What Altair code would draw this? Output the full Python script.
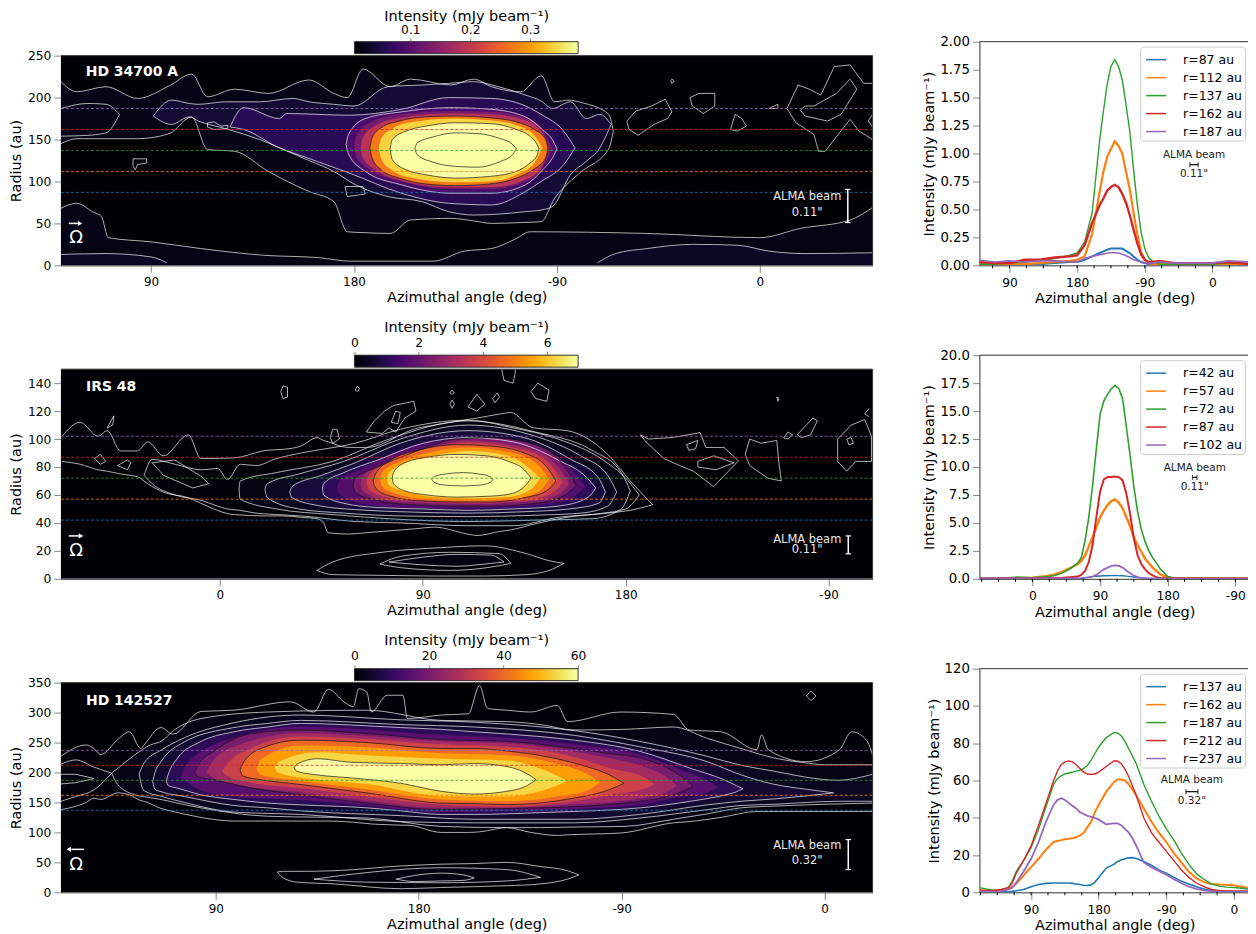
import altair as alt
import pandas as pd

# ---------- panel 1 : HD 34700 A (x, hi, lo) ----------
P1_LOW = ([50,57,64,68,71,90,112,140,165,178,215,229,241,252,258,310,360,378,400,410],
          [68,74,64,58,33,28,20,12,9,5,5,17,20,32,40,38,33,44,54,69], None)
P1_LOW2 = ([50,70,90,97], [13,14,10,3], None)
P1_LOW3 = ([288,296,310,330,350,364,380,410], [3,14,20,25,24,17,14,15], None)
P1_LB = ([50,62,70,76], [187,193,192,180], [154,155,158,180])
P1_A = ([50,57,70,84,98,108,115,127,142,160,171,177,184,196,205,223,233,241,254,263,269,275,281,293,295],
        [219,207,213,199,214,228,201,210,205,221,205,200,234,213,222,215,222,213,207,226,195,197,194,180,160],
        [145,151,151,151,157,177,138,136,112,88,76,40,39,38,54,56,53,50,51,52,80,98,112,139,160])
P1_B = ([91,99,107,111,123,138,153,160,171,180,195,210,222,233,244,256,263,268,276,283,289,294],
        [178,197,193,192,195,195,199,195,192,190,213,215,217,219,213,203,196,187,195,175,180,168],
        [178,168,177,172,163,150,133,125,112,97,82,76,64,60,61,64,66,70,108,124,140,168])
P1_C = ([125,131,147,150,178,201,222,241,256,263,273,278],
        [165,188,175,181,179,186,200,199,190,180,160,140],
        [165,162,140,137,110,86,74,72,88,100,120,140])
P1_D = ([176.5,177.5,185,201,223,241,256,263,269,270],
        [144,156,175,183,188,186,177,163,145,139],
        [144,133,112,96,86,86,96,112,133,139])
P1_D1 = ([180,181,187,201,223,241,256,263,266,268],
         [141,154,170,180,184,183,176,165,150,140],
         [141,129,114,100,91,91,100,114,128,140])
P1_D2 = ([183,184,190,201,223,241,256,263,266.5],
         [140,153,167,176,181,180,173,160,140],
         [140,128,113,101,93,93,102,116,140])
P1_E = ([187,188,192,200,212,225,240,252,260,265,266],
        [140,152,164,172,177,178,176,171,162,150,140],
        [140,128,114,104,97,95,97,104,115,128,140])
P1_E1 = ([191,192,197,206,225,240,252,260,263.5],
         [140,151,163,171,175,173,167,155,140],
         [140,127,113,104,99,100,108,122,140])
P1_F = ([196,197,203,212,225,240,252,258,261,262],
        [139,150,160,166,170,169,162,154,145,139],
        [139,126,114,108,104,106,112,122,130,139])
P1_G = ([207,208,215,225,235,245,250,252],
        [139,146,153,158,157,151,145,139],
        [139,132,123,118,117,124,131,139])
P1_BANDS = [(P1_LOW,.02,"w"),(P1_LOW2,.03,"w"),(P1_LOW3,.03,"w"),(P1_LB,.035,"w"),(P1_A,.022,"w"),(P1_B,.04,"w"),
            (P1_C,.06,"w"),(P1_D,.09,"w"),(P1_D1,.13,None),(P1_D2,.19,None),(P1_E,.27,"k"),
            (P1_E1,.34,None),(P1_F,.38,"k"),(P1_G,.38,"k")]
P1_BLOBS = [
 [(82,127),(88,127),(88,122),(84,120),(83,114),(82,118),(82,127)],
 [(176,94),(184,94),(185,85),(177,82),(176,94)],
 [(115,170),(118,171),(121,166),(124,167),(124,163),(118,162),(115,165),(115,170)],
 [(321,222),(322,220),(321,217),(320.5,220),(321,222)],
 [(301,172),(305,184),(312,190),(318,198),(321,183),(319,175),(313,168),(306,155),(302,162),(301,172)],
 [(329,200),(333,205),(340,205),(340,190),(335,181),(330,190),(329,200)],
 [(364,187),(368,192),(368,187),(364,187)],
 [(347,162),(349,180),(352,175),(354,166),(350,160),(347,162)],
 [(410,217),(406,217),(400,239),(393,237),(387,203),(382,210),(377,215),(372,187),(376,170),(384,156),(386,136),(389,136),(393,150),(400,174),(404,160),(410,150)],
 [(380,190),(384,190),(394,205),(400,222),(403,210),(396,180),(390,172),(380,178),(378,185),(380,190)],
 [(410,180),(408,172),(410,165)],
]

# ---------- panel 2 : IRS 48 ----------
P2_A2 = ([-70,-62,-54,-50,-44,-36.5,-32,-25,-14,-8.4,6,21,28.5,36,43,46,48,57,65,88,95,110,114,124.5,129,139,154,172,182,192],
         [102,112,102,106,91.5,91.5,98,88,103,86,86.5,92,92.7,95,101,99,98,94,94,108,110,114,115,118,119,108,106,89,70,53],
         [84,82,78,77,75,73,68,62,58,54,46,45,45,44,43,40,33,32,33,36,37,32,31,34,35,39,44,47,49,53])
P2_A1 = ([-33.6,-30,-20,-8,-1,3.4,9,16,25,36,60,80,110,130,150,170,180,186],
         [74,85.5,82,78,79,71,82,81,86,90,97,107,113.5,108,100,85,72,60],
         [74,68,60,56,52,50,49,47,46,45,41,40,38,38,44,47,50,60])
P2_C4 = ([8.5,9,25,50,75,110,140,165,178,182],
         [64,70,76,84,100,113,105,92,76,63],
         [64,57,50,46,43,41,42,43,50,63])
P2_C3 = ([20,21,35,55,80,110,140,160,172,176],
         [64,68,75,84,100,110,102,88,74,62],
         [64,58,50,47,45,44.5,45.5,47,52,62])
P2_C2 = ([31,32,45,60,80,110,135,155,168,171],
         [62,66,74,83,97,106,101,86,72,62],
         [62,58,52,49.5,48,47,48,50,54,62])
P2_C = ([45.5,46,55,70,90,110,130,150,163,166.7],
        [65,68,76,85,97,101,98,85,72,65],
        [65,60,54,51,50,49,50,52,58,65])
P2_C1 = ([52,53,62,80,110,135,155,162],
         [66,70,78,92,100,97,80,66],
         [66,61,54,51,50.5,52,57,66])
P2_D = ([59,60,70,85,105,120,140,153,158],
        [67,72,80,90,100,101,96,80,67],
        [67,62,56,53,52,52,54,60,67])
P2_D1 = ([62.5,63.5,72,88,110,135,150,155],
         [68,73,82,91,99,94,80,68],
         [68,63,57,54.5,53.5,55,60,68])
P2_D2 = ([65,66,75,90,110,135,148,152],
         [69,74,83,91,97.5,92,79,69],
         [69,64,58,55.5,54.5,56,62,69])
P2_E = ([68,69,76,88,105,120,135,145,149],
        [70,75,85,92,96,95,90,80,70],
        [70,65,59,56,55,55,58,63,70])
P2_E1 = ([71,72,80,92,110,130,142,146],
         [71,76,84,90,94,90,80,71],
         [71,66,60,57,56,57,63,71])
P2_E2 = ([74,75,84,95,110,128,138,142],
         [72,76,83,88,91.5,88,78,72],
         [72,67,62,58.5,57.5,58.5,64,72])
P2_F = ([76.5,77,82,92,105,118,128,135,138],
        [72,76,83,87,89,88,84,78,72],
        [72,68,63,60,58.5,59,60.5,66,72])
P2_G = ([94,95,100,108,115,120,121],
        [71,73,75,76,75,73,71],
        [71,69,67,66.5,67,69,71])
P2_L1 = ([43,50,72,95,117,136,146,152.6],[6,12,19,22,23.6,18,13,11],[6,3,2.5,2,2,3,6,11])
P2_L2 = ([71,80,102,124,129],[10.6,16,19,18,11],[10.6,8,6,9.4,11])
P2_L3 = ([75,90,105,120,126],[12,15.5,17.5,17,12],[12,10,9,11,12])
P2_BANDS = [(P2_A2,.03,"w"),(P2_A1,.08,"w"),(P2_C4,.2,"w"),(P2_C3,.4,"w"),(P2_C2,.7,"w"),(P2_C,1.1,"w"),
            (P2_C1,1.7,None),(P2_D,2.3,"k"),(P2_D1,3.0,None),(P2_D2,3.8,None),(P2_E,4.6,"k"),(P2_E1,5.4,None),
            (P2_E2,6.3,None),(P2_F,6.96,"k"),(P2_G,6.96,"k"),(P2_L1,.04,"w"),(P2_L2,.1,"w"),(P2_L3,.2,"w")]
P2_BLOBS = [
 [(27,134),(28,138),(30,137),(30,130),(28,129),(27,134)],
 [(60,135),(61,138),(62,136),(61,134),(60,135)],
 [(102,133),(103,135),(104,133),(103,132),(102,133)],
 [(102,125),(103,128),(104,125),(103,122),(102,125)],
 [(110,123),(114,132),(117.5,125),(114,120),(110,123)],
 [(121,129),(123,133),(124,130),(122,126),(121,129)],
 [(138,134),(141,140),(146,135),(145,127),(140,129),(138,134)],
 [(125,150),(126,142),(130,140),(131,147),(131,150)],
 [(65,105),(68,112),(73,120),(77,124),(86,127),(87,120),(82,115),(78,105),(75,108),(72,104),(65,105)],
 [(76,112),(78,120),(80,119),(79,111),(76,112)],
 [(49,101),(50,107),(52,107),(53,100),(50,97),(49,101)],
 [(186.5,103),(190,100),(200,101),(204,102),(213,104.6),(215.5,94),(223.6,94),(230,84.4),(219,66),(210,77),(204,81),(197,86),(189,98),(186.5,103)],
 [(212,84),(219,88),(228,83),(220,78),(212,80),(212,84)],
 [(207,96),(212,99),(211,93),(208,92),(207,96)],
 [(233,89),(235,100),(240,97),(247,99),(248,82),(249,70),(243,72),(235,81),(233,89)],
 [(250,101),(252,105),(254,103),(252,100),(250,101)],
 [(256,103),(263,115),(265,113),(262,103),(258,101),(256,103)],
 [(247,130),(248,129),(247.5,127),(247,130)],
 [(274,100),(280,110),(286,114),(289,102),(289,84),(282,84),(278,77),(274,84),(274,100)],
 [(278,100),(280,101),(281,97),(279,96),(278,100)],
 [(288,122),(286,118),(288,116)],
 [(-55.7,86),(-53,89),(-50.6,84),(-53,82),(-55.7,86)],
 [(-45.4,81),(-41,85),(-39.5,83),(-41,78),(-45.4,81)],
 [(-50,108),(-47,116.6),(-47.5,110),(-50,108)],
 [(-30,83),(-20,85),(-8,73),(-5,68),(-12,65),(-25,74),(-30,83)],
]

# ---------- panel 3 : HD 142527 ----------
P3_A = ([21.3,32.5,36,39,46.5,51.6,56.8,58,65.7,71,83.4,98,123,133.5,140,146.8,151,153.4,157,159,166,173,175,190,202,207,210.5,219,229.7,241.5,246,269.6,293,300,314,330,332,335,351.8,366.6,372,378.6,381.3],
        [227,246,240,230,255,268,240,245,275,264,302,304,318,301,339,318,310,340,334,301,329,329,290,296,298,345,307,304,301,312,285,301,297,271,268,238,263,238,218,238,268,254,229],
        [138,150,157,155,166,163,153,152,140,135,125,119,119,119,119,118,117,116,115,114,113,112,112,100,100,101,103,108,100,95,96,99,116,118,125,135,135,135,135,135,135,135,135])
P3_LB = ([21.3,28,36,43.8],[214,221,209,199],[152,160,171,199])
P3_B = ([43.8,46.5,53.9,61,65.7,71.6,83.4,113,157,190,219,234,249,271,293,308,323,338,352,360,381.3],
        [199,207,229,246,252,271,290,301,304,287,285,280,271,272,276,257,240,224,216,213,213],
        [199,180,163,158,155,150,141,127,124,110,108,108,109,110,122,131,141,144,146,147,149])
P3_B2 = ([56,58,66,76,98,127.6,172,204.6,249,278,308,323,338,352,366,381.3],
         [197,215,238,258,283,296,288,284,270,252,227,212,202,192,187,197],
         [197,170,160,150,134,130,118,116,116,124,138,145,147,150,152,152])
P3_C = ([62,63,65.7,76,98,113,127.6,172,204.6,249,278,308,323,338,352,364],
        [185,200,218,251,275,282,287,280,276,262,243,218,196,180,172,166],
        [185,172,168,160,145,141,136,128,122,122,130,146,152,156,161,166])
P3_D = ([68,69,73,83,98,113,127.6,157,172,190,204.6,234,249,278.4,300.6,315.3,321,323.8],
        [186,198,224,251,268,276,282,278,275,272,268,260,254,235,207,188,178,173],
        [186,178,174,163,155,149,146,141,136,130,130,133,135,141,152,162,168,173])
P3_D1 = ([74.5,76,85,98,127.6,157,190,219,249,278,296,309,313],
         [192,206,238,258,277,272,263,258,247,230,205,184,175],
         [192,187,168,160,154,145,134,136,139,146,160,168,175])
P3_E = ([80.7,82,89,106,127.6,157,190,219,249,263.6,278.4,293,299,301.6],
        [199,212,235,265,271,265,255,252,240,232,224,202,186,177],
        [199,193,188,174,163,149,138,140,143,146.5,152,163,172,177])
P3_E1 = ([86,88,98,127.6,157,190,219,249,263,278,290,294.5],
         [200,215,243,266,261,252,249,235,225,212,192,178],
         [200,193,181,167,153,141,141,147,150,157,168,178])
P3_E2 = ([93,95,106,127.6,157,190,219,249,265,280,284.5],
         [202,214,241,260,256,247,243,226,207,192,180],
         [202,194,183,174,160,146,143,152,163,173,180])
P3_F = ([100.8,102,110,127.6,157,190,204.6,219,249,265,271],
        [204.5,215,240,254,250,240,240,236,215.6,195,182],
        [204.5,194,188,180,166,149,148,146.5,157.5,172,182])
P3_F1 = ([108,110,127.6,157,190,219,240,256,260.5],
         [206,222,245,242,232,229,216,195,184],
         [206,196,186,172,155,152,159,172,184])
P3_F2 = ([116,118,135,157,190,219,235,246],
         [207,218,234,229,223,220,205,186],
         [207,199,188,181,161,160,170,186])
P3_G = ([124.7,126,135,150,172,190,204.6,219,228,232],
        [208,214,223,217,215,213,215,210,198,188],
        [208,202,196,191,182,168.6,164,168.6,178,188])
P3_L1 = ([117.3,119.5,126,142.4,172,190,204.6,219,234,246,251],
         [34,35,35,36,44,47,48,50,43,36,29],
         [34,25,17,14,6,8,9.4,11,14,22,29])
P3_L2 = ([133.5,157,190,219,234],[22,33,41,38,25],[22,17,16,19,25])
P3_L3 = ([170,178,190,200,204.6],[22,28,32,29,24],[22,18,19,20,24])
P3_BANDS = [(P3_A,.8,"w"),(P3_LB,1.5,"w"),(P3_B,2.2,"w"),(P3_B2,3.5,"w"),(P3_C,5,"w"),(P3_D,9,"w"),(P3_D1,15,None),
            (P3_E,20,"k"),(P3_E1,26,None),(P3_E2,33,None),(P3_F,40,"k"),(P3_F1,47,None),(P3_F2,54,None),(P3_G,60,"k"),
            (P3_L1,.8,"w"),(P3_L2,1.5,"w"),(P3_L3,2.2,"w")]
P3_BLOBS = [
 [(21.3,197),(28,197),(36,190),(28,183),(21.3,181)],
 [(351.8,328),(354,336),(356.2,328),(354,320),(351.8,328)],
]

# ---------- azimuthal cuts ----------
C1_X = [50,70,90,110,130,150,170,180,190,200,210,215,220,225,230,235,240,245,250,255,260,265,270,275,280,290,310,340,360,380,410]
C1_87 = [.02,.01,.01,.01,.01,.02,.03,.03,.05,.08,.11,.125,.14,.15,.15,.15,.15,.13,.11,.08,.05,.03,.02,.01,.01,.01,.01,.01,.01,.01,.01]
C1_112 = [.01,.005,.01,.01,.02,.03,.04,.05,.08,.28,.66,.84,.97,1.04,1.11,1.07,1.0,.84,.68,.47,.28,.12,.05,.02,.01,.01,.01,.01,.01,.01,.01]
C1_137 = [.01,.01,.02,.03,.04,.06,.09,.11,.21,.47,1.12,1.38,1.62,1.78,1.84,1.78,1.66,1.44,1.2,.86,.55,.3,.15,.07,.04,.01,.01,.01,.01,.02,.02]
C1_162 = [.03,.02,.02,.05,.05,.07,.08,.09,.18,.38,.54,.6,.67,.7,.72,.7,.64,.56,.45,.32,.2,.1,.05,.03,.03,.04,.02,.02,.02,.03,.01]
C1_187 = [.045,.03,.04,.03,.04,.04,.03,.03,.06,.08,.095,.1,.11,.113,.115,.11,.1,.085,.07,.05,.04,.03,.02,.02,.02,.03,.02,.02,.02,.04,.03]

C2_X = [-70,-40,-20,0,20,30,40,50,60,65,70,75,80,85,90,95,100,105,110,115,120,125,130,135,140,145,150,155,160,165,170,180,190,220,289]
C2_42 = [.01,.01,.01,.01,.01,.01,.01,.01,.02,.05,.1,.15,.2,.23,.25,.27,.28,.29,.3,.29,.27,.24,.2,.16,.12,.08,.05,.03,.02,.01,.01,.01,.01,.01,.01]
C2_57 = [.02,.03,.05,.1,.25,.4,.65,.95,1.3,1.6,2.1,2.9,3.7,4.6,5.5,6.1,6.6,6.95,7.1,6.8,6.3,5.5,4.7,3.7,3,2.4,1.8,1.4,1,.7,.4,.1,.03,.03,.02]
C2_72 = [.05,.05,.15,.1,.2,.3,.55,.9,1.4,1.9,3.4,5.5,8.3,11.6,14.7,15.9,16.5,17,17.3,17,16.1,13.6,11,8.2,6,4.4,3.3,2.5,1.9,1.4,.9,.2,.05,.05,.05]
C2_87 = [.02,.02,.02,.03,.05,.07,.1,.15,.2,.35,.7,1.5,3,5.5,7.8,8.9,9.1,9.1,9.15,9.1,8.8,7.6,5.8,3.6,2.1,1.3,.85,.5,.3,.15,.08,.02,.02,.02,.02]
C2_102 = [.03,.03,.03,.03,.03,.03,.03,.03,.04,.05,.08,.13,.2,.35,.6,.85,1.0,1.15,1.2,1.15,1,.75,.5,.3,.15,.08,.05,.04,.03,.03,.02,.02,.02,.02,.02]

C3_X = [21.3,30,40,50,60,65,70,80,90,100,110,120,125,130,135,140,145,150,155,160,165,170,175,180,190,200,205,210,215,220,225,230,240,250,260,270,280,290,300,310,320,330,340,350,360,370,381.3]
C3_137 = [.3,.3,.3,.3,.3,.5,.8,1.5,3,4.2,4.8,5,5,5,5,5,4.8,4.5,4.2,3.8,3.7,4,5.5,8,13,15,16.5,17.3,18,18.5,18.6,18.2,16.5,14.5,12,10.3,8,6,4.5,3,1.8,1,.6,.5,.4,.4,.3]
C3_162 = [1,.8,.8,1,2,3,4.5,9,13.5,18,23,27,27.5,28,28.5,28.7,29,29.5,30.5,32,35,38,43,47,54,59,60.5,60.5,60,58,55,52,45,38,32,27,21,16,11,7.5,5.5,4.5,4.2,4,3.8,3,2.3]
C3_187 = [2.5,1.8,1.2,1.3,2.6,6,11,17,24,34,46,58,61,62.5,63.5,64,64.5,65,65.5,66.5,68,71,74.5,78,83,85.7,85.5,84,81,77,73,69,58,49,41,34,28,21,15,10,7,4.5,3.3,2.8,2.6,2.2,1.6]
C3_212 = [1.2,1,1,1.5,2.5,5,10,17,25,36,48,60,65,68.5,70,70.5,70,68.5,66.5,64.5,63.5,63.2,63.5,64.5,67.5,70.5,70.5,69,66,62,57,52,40,32,27,22,17,12,8,5,3,1.5,1,.8,.8,.8,.7]
C3_237 = [.5,.5,.4,.5,1.5,2.5,5,11,18,27,38,47,49.5,50.5,49.5,48,46.5,45,43,42,41,40.5,40,39,36.5,37,37,36,34,32,29,25,16,13.5,11.5,9.5,7,5,3,1.8,1,.6,.4,.4,.4,.4,.4]

TAB = ["#1f77b4","#ff7f0e","#2ca02c","#d62728","#9467bd"]
FONT = "DejaVu Sans"
XTITLE = "Azimuthal angle (deg)"
YTITLE = "Intensity (mJy beam⁻¹)"
LAB = "datum.value > 180 ? datum.value - 360 : datum.value"
H = 224


def image_panel(name, dom, ytop, yticks, cdom, cticks, bands, blobs, radii, ann, cb_pad):
    rows, lines, n = [], [], 0
    rows.append(dict(x=dom[0], hi=ytop, lo=0, v=cdom[0], b=0))
    rows.append(dict(x=dom[1], hi=ytop, lo=0, v=cdom[0], b=0))
    for (xs, his, los), v, lc in bands:
        n += 1
        los = los if los is not None else [0] * len(xs)
        assert len(xs) == len(his) == len(los), (name, n, len(xs), len(his), len(los))
        for x, h, l in zip(xs, his, los):
            rows.append(dict(x=x, hi=h, lo=l, v=v, b=n))
            if lc:
                lines.append(dict(x=x, hi=h, lo=l, b=n, c="#ffffff" if lc == "w" else "#141414"))
    fill = pd.DataFrame(rows)
    outl = pd.DataFrame(lines)
    bl = pd.DataFrame([dict(x=x, y=y, i=i, id=k) for k, pts in enumerate(blobs) for i, (x, y) in enumerate(pts)])

    X = alt.X("x:Q", scale=alt.Scale(domain=dom, nice=False, zero=False),
              axis=alt.Axis(title=XTITLE, values=[v for v in [0, 90, 180, 270, 360] if dom[0] < v < dom[1]],
                            labelExpr=LAB, grid=False, tickSize=7, titleFontSize=14.5, labelFontSize=12,
                            titleFontWeight="normal", labelPadding=4, titlePadding=3, domainColor="#333", titleFont=FONT, labelFont=FONT))
    yscale = alt.Scale(domain=[0, ytop], range=[H, 14], nice=False)
    yaxis = alt.Axis(title="Radius (au)", values=yticks, grid=False, tickSize=7, titleFontSize=14.5,
                     labelFontSize=12.3, titleFontWeight="normal", labelPadding=3, titlePadding=4,
                     domainColor="#333", titleFont=FONT, labelFont=FONT)
    Y = alt.Y("hi:Q", scale=yscale, axis=yaxis)
    COL = alt.Color("v:Q", scale=alt.Scale(scheme="inferno", domain=cdom), legend=None)
    Yy = alt.Y("y:Q", scale=yscale, axis=yaxis)

    layers = [
        alt.Chart(fill).mark_area(interpolate="monotone", clip=True).encode(x=X, y=Y, y2=alt.Y2("lo:Q"), color=COL, detail="b:N"),
        alt.Chart(outl).mark_line(interpolate="monotone", strokeWidth=.8, strokeOpacity=.85, clip=True).encode(
            x=X, y=Y, stroke=alt.Stroke("c:N", scale=None), detail="b:N"),
        alt.Chart(outl).transform_filter("datum.lo > 0").mark_line(interpolate="monotone", strokeWidth=.8, strokeOpacity=.85, clip=True).encode(
            x=X, y=alt.Y("lo:Q", scale=yscale, axis=yaxis),
            stroke=alt.Stroke("c:N", scale=None), detail="b:N"),
        alt.Chart(bl).mark_line(color="white", strokeWidth=.8, strokeOpacity=.85, clip=True).encode(x=X, y=Yy, order="i:Q", detail="id:N"),
    ]
    # dashed radii
    rd = pd.DataFrame(dict(y=radii, c=TAB, x=[dom[0]] * 5, x1=[dom[1]] * 5))
    layers.append(alt.Chart(rd).mark_rule(strokeDash=[3, 2], strokeWidth=1, opacity=.8).encode(
        x=X, x2="x1:Q", y=Yy, stroke=alt.Stroke("c:N", scale=None)))
    # frame (top and right)
    top = pd.DataFrame(dict(x=[dom[0]], x1=[dom[1]], y=[ytop]))
    rgt = pd.DataFrame(dict(x=[dom[1]], y=[0], y1=[ytop]))
    layers.append(alt.Chart(top).mark_rule(color="#333").encode(x=X, x2="x1:Q", y=Yy))
    layers.append(alt.Chart(rgt).mark_rule(color="#333").encode(x=X, y=Yy, y2="y1:Q"))
    # annotations
    t = pd.DataFrame([dict(x=ann["name"][0], y=ann["name"][1], t=name)])
    layers.append(alt.Chart(t).mark_text(color="white", fontWeight="bold", fontSize=14, align="left", font=FONT).encode(x=X, y=Yy, text="t:N"))
    tx = pd.DataFrame([dict(x=ann["text_x"], y=ann["text_y"][0], t="ALMA beam"), dict(x=ann["text_x"], y=ann["text_y"][1], t=ann["beam"])])
    layers.append(alt.Chart(tx).mark_text(color="#e8e8e8", fontSize=11.5, font=FONT).encode(x=X, y=Yy, text="t:N"))
    om = pd.DataFrame([dict(x=ann["omega"][0], y=ann["omega"][1], t="Ω")])
    layers.append(alt.Chart(om).mark_text(color="white", fontSize=18, font=FONT).encode(x=X, y=Yy, text="t:N"))
    ar = pd.DataFrame([dict(x=ann["arrow"][0], x1=ann["arrow"][1], y=ann["arrow"][2])])
    layers.append(alt.Chart(ar).mark_rule(color="white", strokeWidth=1.5).encode(x=X, x2="x1:Q", y=Yy))
    head = pd.DataFrame([dict(x=ann["arrow"][3], y=ann["arrow"][2])])
    layers.append(alt.Chart(head).mark_point(shape=ann["arrow"][4], filled=True, color="white", size=28, opacity=1).encode(x=X, y=Yy))
    bar = pd.DataFrame([dict(x=ann["bar"][0], y=ann["bar"][1], y1=ann["bar"][2])])
    layers.append(alt.Chart(bar).mark_rule(color="white", strokeWidth=1.5).encode(x=X, y=Yy, y2="y1:Q"))
    caps = pd.DataFrame([dict(x=ann["bar"][0] - 1.2, x1=ann["bar"][0] + 1.2, y=v) for v in ann["bar"][1:3]])
    layers.append(alt.Chart(caps).mark_rule(color="white", strokeWidth=1.2).encode(x=X, x2="x1:Q", y=Yy))

    main = alt.layer(*layers)

    # colour bar
    N = 112
    step = (cdom[1] - cdom[0]) / N
    cb = pd.DataFrame([dict(a=cdom[0] + i * step, b=min(cdom[1], cdom[0] + (i + 1.6) * step), v=cdom[0] + (i + .5) * step) for i in range(N)])
    CX = alt.X("a:Q", scale=alt.Scale(domain=cdom, range=[294, 518], nice=False, zero=False),
               axis=alt.Axis(orient="top", title=YTITLE, values=cticks, grid=False, tickSize=cb_pad[2],
                             labelFontSize=12.3, titleFontSize=14.5, titleFontWeight="normal", labelPadding=cb_pad[0],
                             titlePadding=cb_pad[1], domain=False, titleFont=FONT, labelFont=FONT,
                             labelFlush=False, labelOverlap=False))
    bar1 = alt.Chart(cb).mark_rect(stroke=None).encode(x=CX, x2="b:Q", y=alt.value(0), y2=alt.value(12), color=COL)
    frm = pd.DataFrame([dict(a=cdom[0], b=cdom[1])])
    bar2 = alt.Chart(frm).mark_rect(fill=None, stroke="#333", strokeWidth=1).encode(x=CX, x2="b:Q", y=alt.value(0), y2=alt.value(12))
    cbar = alt.layer(bar1, bar2)
    return alt.layer(main, cbar).resolve_scale(x="independent").properties(width=813, height=H)


def cut_panel(dom, ymax, yticks, fmt, xs, series, widths, minor, beam):
    rows = []
    order = [s[0] for s in series]
    for (lab, vals), w in zip(series, widths):
        assert len(vals) == len(xs), lab
        rows += [dict(x=x, y=v, s=lab, w=w) for x, v in zip(xs, vals)]
    d = pd.DataFrame(rows)
    X = alt.X("x:Q", scale=alt.Scale(domain=dom, nice=False, zero=False),
              axis=alt.Axis(title=XTITLE, values=[v for v in [0, 90, 180, 270, 360] if dom[0] < v < dom[1]],
                            labelExpr=LAB, grid=False, tickSize=7, titleFontSize=14.5, labelFontSize=12.3,
                            titleFontWeight="normal", labelPadding=4, titlePadding=3, domainColor="#333", titleFont=FONT, labelFont=FONT))
    Y = alt.Y("y:Q", scale=alt.Scale(domain=[0, ymax], nice=False),
              axis=alt.Axis(title=YTITLE, values=yticks, format=fmt, grid=False, tickSize=7, titleFontSize=14.5,
                            labelFontSize=13.3, titleFontWeight="normal", labelPadding=3, titlePadding=3,
                            domainColor="#333", titleFont=FONT, labelFont=FONT))
    lines = alt.Chart(d).mark_line(clip=True).encode(
        x=X, y=Y,
        color=alt.Color("s:N", scale=alt.Scale(domain=order, range=TAB), sort=order,
                        legend=alt.Legend(title=None, orient="top-right", offset=5, labelFontSize=12.5, labelFont=FONT,
                                          symbolType="stroke", symbolSize=400, symbolStrokeWidth=1.5,
                                          fillColor="white", strokeColor="#cccccc", cornerRadius=3, padding=2,
                                          rowPadding=-2.4, labelOffset=16, symbolOffset=3)),
        strokeWidth=alt.StrokeWidth("w:Q", scale=None),
    )
    top = pd.DataFrame(dict(x=[dom[0]], x1=[dom[1]], y=[ymax]))
    rgt = pd.DataFrame(dict(x=[dom[1]], y=[0], y1=[ymax]))
    mt = pd.DataFrame(dict(x=[v for v in minor if dom[0] < v < dom[1]]))
    t = pd.DataFrame([dict(x=beam[0], y=beam[1], t="ALMA beam"), dict(x=beam[0], y=beam[3], t=beam[4])])
    bar = pd.DataFrame([dict(x=beam[0] - beam[5], x1=beam[0] + beam[5], y=beam[2])])
    caps = pd.DataFrame([dict(x=beam[0] - beam[5], y=beam[2] * 1.0), dict(x=beam[0] + beam[5], y=beam[2] * 1.0)])
    layers = [
        lines,
        alt.Chart(top).mark_rule(color="#333").encode(x=X, x2="x1:Q", y=Y),
        alt.Chart(rgt).mark_rule(color="#333").encode(x=X, y=Y, y2="y1:Q"),
        alt.Chart(mt).mark_rule(color="black").encode(x=X, y=alt.value(H), y2=alt.value(H + 3)),
        alt.Chart(t).mark_text(fontSize=10.5, color="#222", font=FONT).encode(x=X, y=Y, text="t:N"),
        alt.Chart(bar).mark_rule(color="black", strokeWidth=1.2).encode(x=X, x2="x1:Q", y=Y),
        alt.Chart(caps).mark_tick(color="black", orient="vertical", size=5, thickness=1.2).encode(x=X, y=Y),
    ]
    return alt.layer(*layers).properties(width=271, height=H)


MINOR = [22.5 * i for i in range(-4, 18)]

L1 = image_panel("HD 34700 A", [50, 410], 250, [0, 50, 100, 150, 200, 250], [.0067, .38], [.1, .2, .3],
                 P1_BANDS, P1_BLOBS, [87, 112, 137, 162, 187],
                 dict(name=(61, 230), text_x=381, text_y=(82, 62), beam='0.11"', omega=(56.7, 32),
                      arrow=(53.5, 57.5, 50, 58.5, "triangle-right"), bar=(399, 90.5, 51)), (1, 0, 4))
R1 = cut_panel([50, 410], 2, [0, .25, .5, .75, 1, 1.25, 1.5, 1.75, 2], ".2f", C1_X,
               [("r=87 au", C1_87), ("r=112 au", C1_112), ("r=137 au", C1_137), ("r=162 au", C1_162), ("r=187 au", C1_187)],
               [2, 2.2, 1.4, 2.4, 1.6], MINOR, (335.5, .99, .90, .82, '0.11"', 5.5))
L2 = image_panel("IRS 48", [-70.5, 289.5], 150, [0, 20, 40, 60, 80, 100, 120, 140], [0, 6.96], [0, 2, 4, 6],
                 P2_BANDS, P2_BLOBS, [42, 57, 72, 87, 102],
                 dict(name=(-59.4, 137), text_x=260.5, text_y=(27.6, 20.7), beam='0.11"', omega=(-63.8, 20),
                      arrow=(-67, -62.5, 30.7, -61.6, "triangle-right"), bar=(278.7, 30.7, 17.9)), (2, 2, 4))
R2 = cut_panel([-70.5, 289.5], 20, [0, 2.5, 5, 7.5, 10, 12.5, 15, 17.5, 20], ".1f", C2_X,
               [("r=42 au", C2_42), ("r=57 au", C2_57), ("r=72 au", C2_72), ("r=87 au", C2_87), ("r=102 au", C2_102)],
               [1.4, 2.4, 1.6, 2, 1.8], MINOR, (216, 9.95, 9.07, 8.2, '0.11"', 3))
L3 = image_panel("HD 142527", [21.3, 381.3], 350, [0, 50, 100, 150, 200, 250, 300, 350], [0, 60], [0, 20, 40, 60],
                 P3_BANDS, P3_BLOBS, [137, 162, 187, 212, 237],
                 dict(name=(32.4, 320), text_x=352.3, text_y=(76.7, 51.7), beam='0.32"', omega=(28, 45),
                      arrow=(26, 31.5, 71.7, 24.8, "triangle-left"), bar=(370.5, 88, 38)), (2, 2, 4))
R3 = cut_panel([21.3, 381.3], 120, [0, 20, 40, 60, 80, 100, 120], "d", C3_X,
               [("r=137 au", C3_137), ("r=162 au", C3_162), ("r=187 au", C3_187), ("r=212 au", C3_212), ("r=237 au", C3_237)],
               [1.6, 2, 1.4, 1.4, 1.8], MINOR, (304, 60, 54, 48.8, '0.32"', 8))

chart = alt.concat(L1, R1, L2, R2, L3, R3, columns=2, spacing={"column": 107, "row": 90}, bounds="flush",
                   padding={"left": 0, "top": 0, "right": -3, "bottom": 0}).configure_view(stroke=None)

chart.save("out.html", embed_options={"renderer": "svg", "actions": False})
